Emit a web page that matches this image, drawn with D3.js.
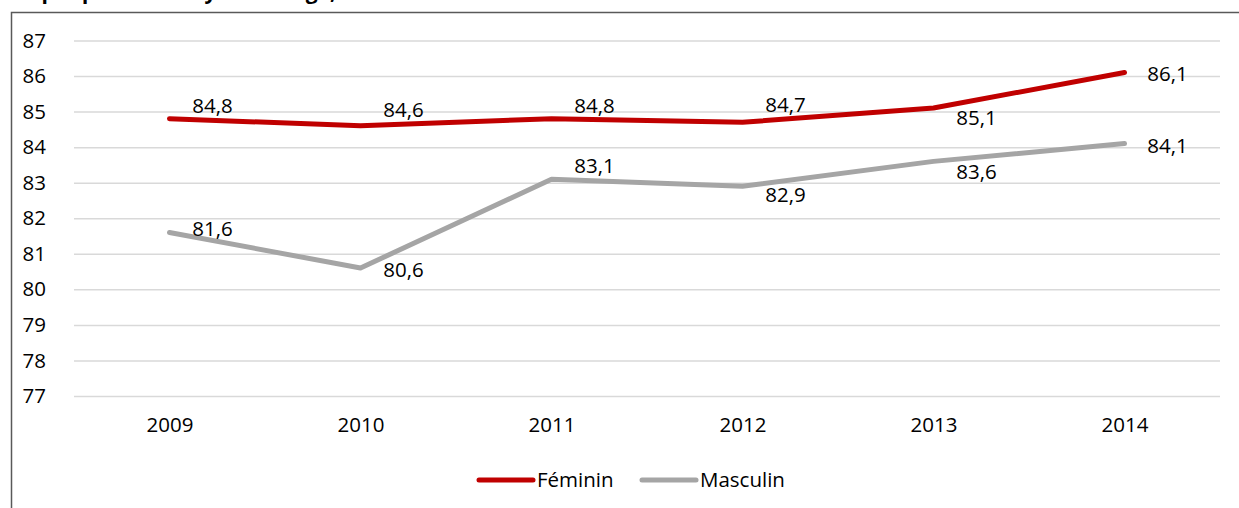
<!DOCTYPE html>
<html>
<head>
<meta charset="utf-8">
<script src="https://cdn.jsdelivr.net/npm/d3@7"></script>
<style>
  body { margin: 0; background: #fff; }
  svg { display: block; font-family: "Open Sans", sans-serif; }
</style>
</head>
<body>
<div id="chart"></div>
<script>
// data
var years = ["2009", "2010", "2011", "2012", "2013", "2014"];
var feminin = [84.8, 84.6, 84.8, 84.7, 85.1, 86.1];
var masculin = [81.6, 80.6, 83.1, 82.9, 83.6, 84.1];
var yTicks = [77, 78, 79, 80, 81, 82, 83, 84, 85, 86, 87];
var seriesNames = ["Féminin", "Masculin"];
var seriesColors = ["#C00000", "#A5A5A5"];

// label nudges (dy in px from the point), like the hand-moved excel labels
var labelDy = [
    [-13, -16, -13, -17, 10, 1],
    [-4, 2, -13, 9, 10, 2]
];

var width = 1239, height = 508;
var plot = {left: 74, right: 1220, top: 40.5, bottom: 396};
var fontSize = "20.5px";

var svg = d3.select("#chart").append("svg")
    .attr("width", width)
    .attr("height", height);

// title, cut off at the top like in the source
svg.append("text")
    .attr("x", 4)
    .attr("y", -1)
    .attr("font-size", "21px")
    .attr("font-weight", "bold")
    .attr("fill", "#000")
    .text("Graphique n°3 : Moyenne d'âge, en années");

// frame
svg.append("path")
    .attr("d", "M11.5," + height + "V12.5H" + width)
    .attr("fill", "none")
    .attr("stroke", "#595959")
    .attr("stroke-width", 1.5);

var x = d3.scalePoint()
    .domain(years)
    .range([plot.left, plot.right])
    .padding(0.5);

var y = d3.scaleLinear()
    .domain([77, 87])
    .range([plot.bottom, plot.top]);

// gridlines
svg.append("g")
    .attr("transform", "translate(" + plot.left + ",0)")
    .call(d3.axisLeft(y).tickValues(yTicks).tickSize(-(plot.right - plot.left)).tickFormat(""))
    .call(function (g) {
        g.select(".domain").remove();
        g.selectAll("line").attr("stroke", "#D9D9D9").attr("stroke-width", 1.5);
    });

// y axis labels
svg.append("g")
    .attr("transform", "translate(" + 46 + ",0)")
    .call(d3.axisLeft(y).tickValues(yTicks).tickSize(0).tickPadding(0).tickFormat(d3.format("d")))
    .call(function (g) {
        g.select(".domain").remove();
        g.selectAll("text").attr("font-size", fontSize).attr("fill", "#000").attr("font-family", "Open Sans");
    });

// x axis labels
svg.append("g")
    .attr("transform", "translate(0," + plot.bottom + ")")
    .call(d3.axisBottom(x).tickSize(0).tickPadding(21))
    .call(function (g) {
        g.select(".domain").remove();
        g.selectAll("text").attr("font-size", fontSize).attr("fill", "#000").attr("font-family", "Open Sans");
    });

var line = d3.line()
    .x(function (d, i) { return x(years[i]); })
    .y(function (d) { return y(d); });

var fmt = function (v) { return d3.format(".1f")(v).replace(".", ","); };

[masculin, feminin].forEach(function (vals) {
    var k = vals === feminin ? 0 : 1;
    svg.append("path")
        .datum(vals)
        .attr("d", line)
        .attr("fill", "none")
        .attr("stroke", seriesColors[k])
        .attr("stroke-width", 5)
        .attr("stroke-linecap", "round")
        .attr("stroke-linejoin", "round");
});

[feminin, masculin].forEach(function (vals, k) {
    svg.append("g").selectAll("text")
        .data(vals)
        .enter()
        .append("text")
        .attr("x", function (d, i) { return x(years[i]) + 43; })
        .attr("y", function (d, i) { return y(d) + labelDy[k][i]; })
        .attr("dy", "0.35em")
        .attr("text-anchor", "middle")
        .attr("font-size", fontSize)
        .attr("fill", "#000")
        .text(fmt);
});

// legend
var legend = svg.append("g").attr("transform", "translate(0,480)");
var legendX = [479, 642];
seriesNames.forEach(function (name, k) {
    legend.append("line")
        .attr("x1", legendX[k])
        .attr("x2", legendX[k] + 54)
        .attr("y1", 0)
        .attr("y2", 0)
        .attr("stroke", seriesColors[k])
        .attr("stroke-width", 5)
        .attr("stroke-linecap", "round");
    legend.append("text")
        .attr("x", legendX[k] + 58)
        .attr("y", 0)
        .attr("dy", "0.35em")
        .attr("font-size", fontSize)
        .attr("fill", "#000")
        .text(name);
});
</script>
</body>
</html>
